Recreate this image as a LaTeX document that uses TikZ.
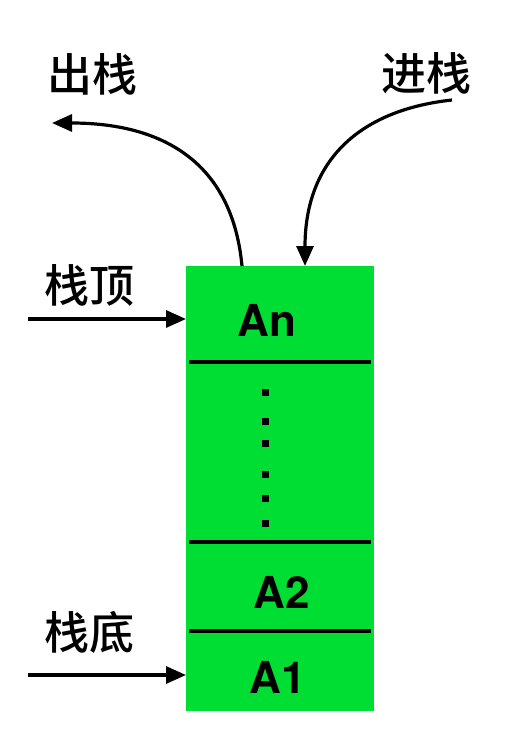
\documentclass[tikz,border=0pt]{standalone}
\usepackage{fontspec}
\setmainfont{TeX Gyre Heros}
\newfontfamily\cjk{Noto Sans CJK SC}[BoldFont={Noto Sans CJK SC Medium}]
\usetikzlibrary{arrows.meta}
\definecolor{stackgreen}{RGB}{0,222,51}
\begin{document}
\begin{tikzpicture}[x=1pt,y=-1pt,
  cell/.style={fill=stackgreen, draw=none, minimum width=188pt, inner sep=0pt, outer sep=0pt, anchor=north west},
  elem/.style={font=\bfseries\fontsize{44}{48}\selectfont, inner sep=0pt},
  lab/.style={font=\cjk\bfseries\fontsize{45}{50}\selectfont, inner sep=0pt},
  sepline/.style={line width=4pt},
  arr/.style={line width=3.2pt, -{Triangle[length=20pt,width=17pt]}},
  dotm/.style={fill=black, minimum size=7pt, inner sep=0pt, outer sep=0pt}]
\useasboundingbox (0,0) rectangle (522,738);
% stack cells
\node[cell, minimum height=96pt] (c1) at (186,266) {};
\node[cell, minimum height=180pt] (c2) at (c1.south west) {};
\node[cell, minimum height=89pt] (c3) at (c2.south west) {};
\node[cell, minimum height=80pt] (c4) at (c3.south west) {};
% separators
\draw[sepline] ([xshift=3pt]c1.south west) -- ([xshift=-3pt]c1.south east);
\draw[sepline] ([xshift=3pt]c2.south west) -- ([xshift=-3pt]c2.south east);
\draw[sepline] ([xshift=3pt]c3.south west) -- ([xshift=-3pt]c3.south east);
% element texts
\node[elem] (an) at (267,320) {An};
\node[elem] (a2) at (282,592) {A2};
\node[elem] (a1) at (278,677) {A1};
% dots
\node[dotm] (d1) at (265,392) {};
\node[dotm] (d2) at (265,421) {};
\node[dotm] (d3) at (265,443) {};
\node[dotm] (d4) at (265,474) {};
\node[dotm] (d5) at (265,498) {};
\node[dotm] (d6) at (265,523) {};
% labels
\node[lab] (pop) at (92,74) {出栈};
\node[lab] (push) at (426,73) {进栈};
\node[lab] (top) at (89,285) {栈顶};
\node[lab] (bottom) at (89,632) {栈底};
% arrows
\coordinate (topin) at (28,319);
\coordinate (botin) at (28,675);
\draw[arr] (topin) -- (c1.west |- topin);
\draw[arr] (botin) -- (c4.west |- botin);
\coordinate (popstart) at (242,266);
\coordinate (popend) at (52,123);
\draw[arr] (popstart) .. controls (232,160) and (160,123) .. (popend);
\coordinate (pushstart) at (452,100);
\coordinate (pushend) at (305,266);
\draw[arr] (pushstart) .. controls (360,110) and (305,160) .. (pushend);
\end{tikzpicture}
\end{document}
